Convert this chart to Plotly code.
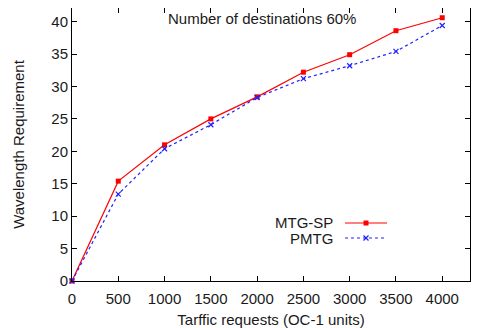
import plotly.graph_objects as go

x_requests = [0, 500, 1000, 1500, 2000, 2500, 3000, 3500, 4000]
mtg_sp = [0, 15.4, 21.0, 25.0, 28.4, 32.2, 34.9, 38.6, 40.6]
pmtg = [0, 13.4, 20.4, 24.1, 28.3, 31.2, 33.2, 35.4, 39.4]
x_ticks = [0, 500, 1000, 1500, 2000, 2500, 3000, 3500, 4000]
y_ticks = [0, 5, 10, 15, 20, 25, 30, 35, 40]

FONT = "Liberation Sans, Arial, sans-serif"
RED = "#ff0000"
BLUE = "#2020ff"
TXT = "#1a1a1a"

# page offset (browser body margin) compensation
OFF = 8
PL, PR, PT, PB = 72, 470, 8, 281  # plot area in page pixels

fig = go.Figure()
fig.add_trace(go.Scatter(x=x_requests, y=mtg_sp, mode="lines+markers", name="MTG-SP",
                         line=dict(color=RED, width=1.2),
                         marker=dict(symbol="square", size=5, color=RED),
                         cliponaxis=False, showlegend=False))
fig.add_trace(go.Scatter(x=x_requests, y=pmtg, mode="lines+markers", name="PMTG",
                         line=dict(color=BLUE, width=1.2, dash="dot"),
                         marker=dict(symbol="x-thin", size=5, color=BLUE, line=dict(color=BLUE, width=1.2)),
                         cliponaxis=False, showlegend=False))

axis_common = dict(showgrid=False, zeroline=False, showline=True, linecolor="#000000", linewidth=1,
                   mirror="ticks", ticks="inside", ticklen=5, tickcolor="#000000",
                   tickfont=dict(family=FONT, size=15, color=TXT))

fig.update_xaxes(range=[0, 4300], tickvals=x_ticks, ticktext=[str(v) for v in x_ticks],
                 ticklabelstandoff=4,
                 title=dict(text="Tarffic requests (OC-1 units)", font=dict(family=FONT, size=15, color=TXT), standoff=8),
                 **axis_common)
fig.update_yaxes(range=[0, 42.1], tickvals=y_ticks, ticktext=[str(v) for v in y_ticks],
                 title=dict(text="Wavelength Requirement", font=dict(family=FONT, size=15, color=TXT), standoff=23),
                 **axis_common)

W = PR - PL
H = PB - PT

def px2paper_x(px):
    return (px - PL) / W

def px2paper_y(py):
    return (PB - py) / H

annotations = [
    dict(text="Number of destinations 60%", xref="paper", yref="paper", x=px2paper_x(262), y=px2paper_y(19),
         xanchor="center", yanchor="middle", showarrow=False,
         font=dict(family=FONT, size=15, color=TXT)),
    dict(text="MTG-SP", xref="paper", yref="paper", x=px2paper_x(335), y=px2paper_y(222),
         xanchor="right", yanchor="middle", showarrow=False,
         font=dict(family=FONT, size=15, color=TXT)),
    dict(text="PMTG", xref="paper", yref="paper", x=px2paper_x(335), y=px2paper_y(238),
         xanchor="right", yanchor="middle", showarrow=False,
         font=dict(family=FONT, size=15, color=TXT)),
]

shapes = [
    dict(type="line", xref="paper", yref="paper", x0=px2paper_x(345), x1=px2paper_x(387),
         y0=px2paper_y(223), y1=px2paper_y(223), line=dict(color=RED, width=1.2)),
    dict(type="rect", xref="paper", yref="paper", x0=px2paper_x(363.5), x1=px2paper_x(368.5),
         y0=px2paper_y(225.5), y1=px2paper_y(220.5), line=dict(width=0), fillcolor=RED),
    dict(type="line", xref="paper", yref="paper", x0=px2paper_x(345), x1=px2paper_x(387),
         y0=px2paper_y(238), y1=px2paper_y(238), line=dict(color=BLUE, width=1.2, dash="dot")),
    dict(type="line", xref="paper", yref="paper", x0=px2paper_x(363.5), x1=px2paper_x(368.5),
         y0=px2paper_y(240.5), y1=px2paper_y(235.5), line=dict(color=BLUE, width=1.2)),
    dict(type="line", xref="paper", yref="paper", x0=px2paper_x(363.5), x1=px2paper_x(368.5),
         y0=px2paper_y(235.5), y1=px2paper_y(240.5), line=dict(color=BLUE, width=1.2)),
]

fig.update_layout(width=481 - OFF, height=328 - OFF,
                  margin=dict(l=PL - OFF, r=481 - PR, t=PT - OFF, b=328 - PB, pad=0),
                  paper_bgcolor="#ffffff", plot_bgcolor="#ffffff",
                  annotations=annotations, shapes=shapes,
                  font=dict(family=FONT, size=15, color=TXT))

fig.write_html("out.html")
